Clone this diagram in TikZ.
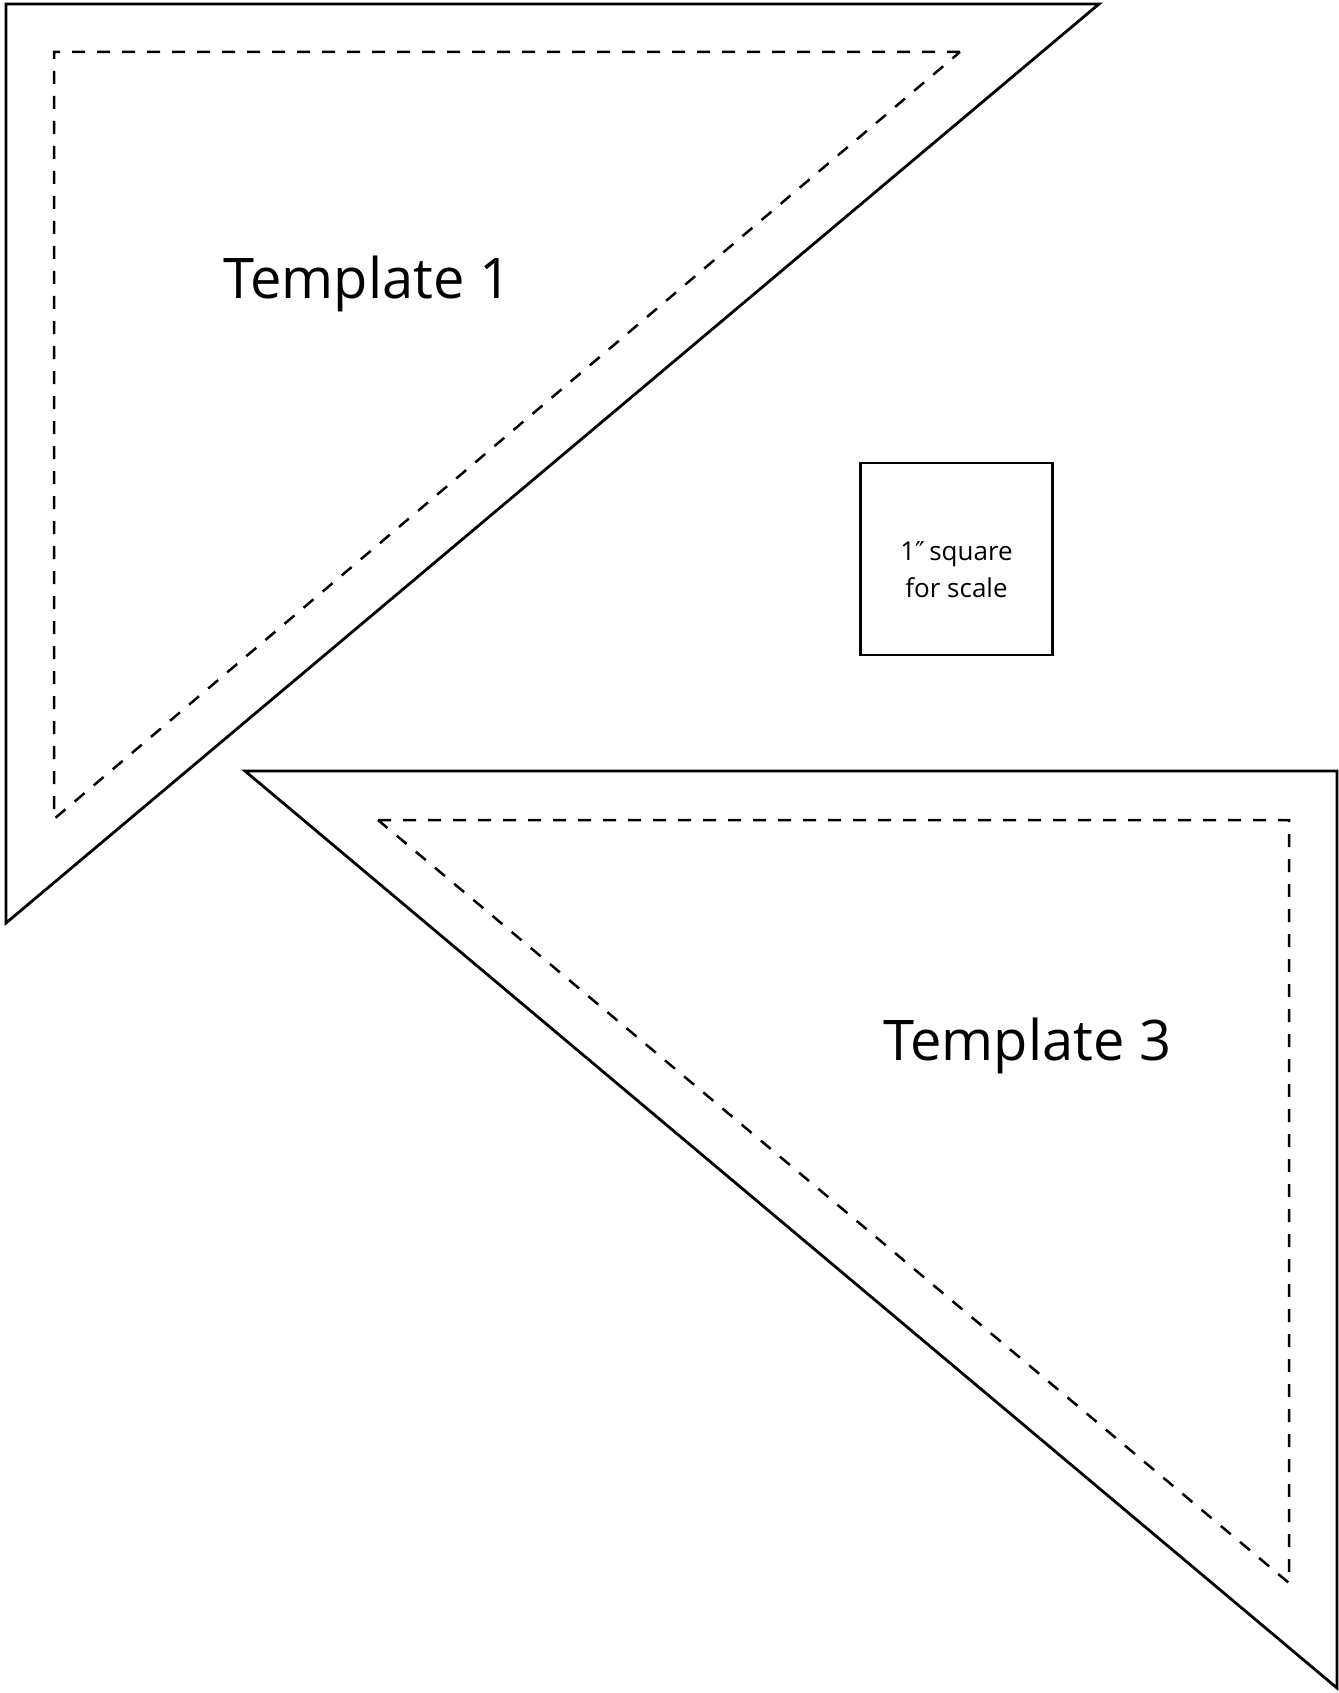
\documentclass[tikz,border=0pt]{standalone}
\usepackage{fontspec}
\setmainfont{Open Sans}
\newfontfamily\symfont{DejaVu Sans}
\begin{document}
\begin{tikzpicture}[x=1pt,y=-1pt,
  cutline/.style={line width=2.8pt,line join=miter},
  seamline/.style={line width=2.5pt,dash pattern=on 13pt off 12pt},
  bigtitle/.style={anchor=base west,inner sep=0pt,font=\fontsize{56}{68}\selectfont},
  scalebox/.style={draw,line width=2.6pt,minimum width=192pt,minimum height=192pt,inner sep=0pt},
  scaletext/.style={align=center,inner sep=0pt,font=\fontsize{26}{37}\selectfont}]
\useasboundingbox (0,0) rectangle (1338,1693);
% Template 1
\coordinate (t1a) at (6,4);
\coordinate (t1b) at (1099,4);
\coordinate (t1c) at (6,923);
\draw[cutline] (t1a) -- (t1b) -- (t1c) -- cycle;
\coordinate (s1a) at (54,52);
\coordinate (s1b) at (960,52);
\coordinate (s1c) at (54,819);
\draw[seamline] (s1b) -- (s1a) -- (s1c) -- cycle;
\node[bigtitle] (lab1) at (223,299) {Template 1};
% Template 3
\coordinate (t3a) at (245,771);
\coordinate (t3b) at (1337,771);
\coordinate (t3c) at (1337,1688);
\draw[cutline] (t3a) -- (t3b) -- (t3c) -- cycle;
\coordinate (s3a) at (378,820);
\coordinate (s3b) at (1289,820);
\coordinate (s3c) at (1289,1583);
\draw[seamline] (s3a) -- (s3b) -- (s3c) -- cycle;
\node[bigtitle] (lab3) at (883,1060) {Template 3};
% scale square
\node[scalebox] (sq) at (956.5,559) {};
\node[scaletext] (sqtext) at (956.5,570) {1{\symfont\char"2033}\,square\\for scale};
\end{tikzpicture}
\end{document}
